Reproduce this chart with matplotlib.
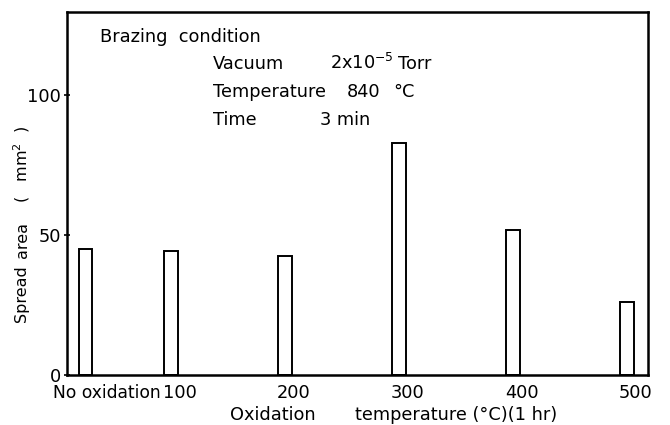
import matplotlib.pyplot as plt
from matplotlib.transforms import ScaledTranslation

# --- Data ---
positions = [25, 100, 200, 300, 400, 500]
labels = ['No oxidation', '100', '200', '300', '400', '500']
spread_area = [45.1, 44.4, 42.6, 83.0, 51.8, 26.0]

fs = 12.8

fig = plt.figure(figsize=(6.7, 4.25), dpi=100)
ax = fig.add_axes([67 / 670, 50 / 425, 581 / 670, 363 / 425])

ax.bar(positions, spread_area, width=12, facecolor='white',
       edgecolor='black', linewidth=1.4)

ax.set_xlim(8.8, 518.4)
ax.set_ylim(0, 129.6)

for side in ['left', 'right', 'top', 'bottom']:
    ax.spines[side].set_linewidth(1.8)

ax.set_yticks([0, 50, 100])
ax.set_yticklabels(['0', '50', '100'], fontsize=fs)
ax.tick_params(axis='y', direction='inout', length=5, width=1.2, pad=2)

ax.set_xticks(positions)
ax.set_xticklabels(labels, fontsize=fs)
ax.tick_params(axis='x', length=0, pad=6.5)

# labels sit a little right of the bars in the original
for i, lab in enumerate(ax.get_xticklabels()):
    if i == 0:
        lab.set_ha('right')
        lab.set_fontsize(12.3)
        lab.set_transform(lab.get_transform() + ScaledTranslation(75 / 100, 0, fig.dpi_scale_trans))
    else:
        lab.set_transform(lab.get_transform() + ScaledTranslation(9 / 100, 0, fig.dpi_scale_trans))


def ftext(px, py, s, **kw):
    opts = dict(ha='left', va='baseline', fontsize=fs)
    opts.update(kw)
    fig.text(px / 670, 1 - py / 425, s, **opts)


# axis titles, spaced out like the original lettering
ftext(22, 294, 'Spread', rotation=90, ha='center', va='center', fontsize=11.5)
ftext(22, 240, 'area', rotation=90, ha='center', va='center', fontsize=11.5)
ftext(22, 164, '(   mm$^2$  )', rotation=90, ha='center', va='center', fontsize=11.5)
ftext(273, 415, 'Oxidation', ha='center', va='center')
ftext(456, 415, 'temperature (°C)(1 hr)', ha='center', va='center')

# --- Brazing condition ---
ftext(100, 42, 'Brazing  condition')
ftext(213, 69, 'Vacuum')
ftext(330, 69, '2x10$^{-5}$')
ftext(398, 69, 'Torr')
ftext(213, 97, 'Temperature')
ftext(347, 97, '840')
ftext(393, 97, '°C')
ftext(213, 125, 'Time')
ftext(320, 125, '3 min')

fig.savefig('out.png', dpi=100)
